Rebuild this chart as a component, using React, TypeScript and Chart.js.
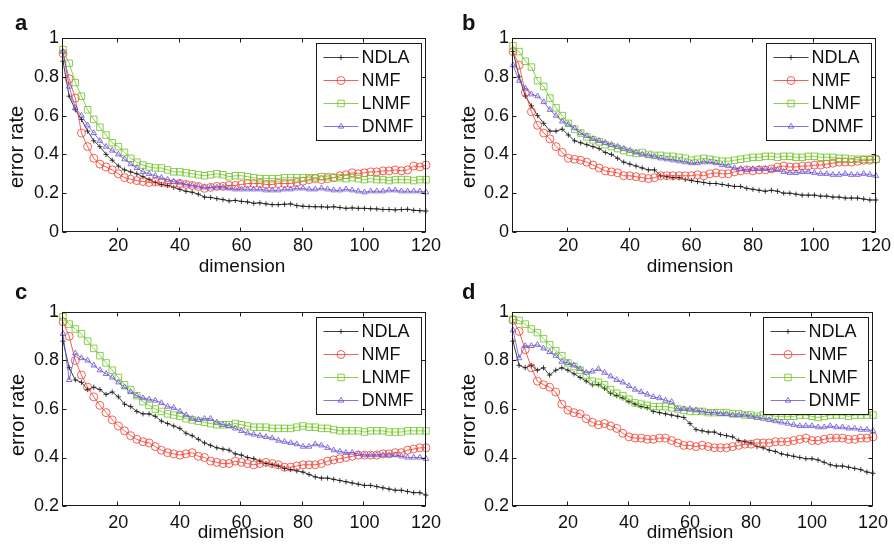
import React, { useEffect, useRef } from "react";
import { Chart, registerables } from "chart.js";
Chart.register(...registerables);

const DIMS = [2,4,6,8,10,12,14,16,18,20,22,24,26,28,30,32,34,36,38,40,42,44,46,48,50,52,54,56,58,60,62,64,66,68,70,72,74,76,78,80,82,84,86,88,90,92,94,96,98,100,102,104,106,108,110,112,114,116,118,120];
const SERIES_NAMES = ["NDLA", "NMF", "LNMF", "DNMF"];
const X_TICKS = [20, 40, 60, 80, 100, 120];
const Y_TICKS_AB = [0, 0.2, 0.4, 0.6, 0.8, 1];
const Y_TICKS_CD = [0.2, 0.4, 0.6, 0.8, 1];

const A_NDLA = [0.88,0.70,0.63,0.58,0.52,0.47,0.44,0.40,0.37,0.34,0.32,0.31,0.30,0.285,0.27,0.255,0.245,0.24,0.23,0.22,0.21,0.205,0.195,0.18,0.178,0.172,0.167,0.16,0.163,0.158,0.155,0.148,0.15,0.145,0.141,0.141,0.143,0.145,0.136,0.133,0.131,0.13,0.13,0.128,0.13,0.126,0.122,0.124,0.122,0.122,0.12,0.119,0.116,0.116,0.114,0.116,0.117,0.112,0.11,0.108];
const A_NMF = [0.92,0.79,0.69,0.51,0.44,0.38,0.35,0.335,0.32,0.30,0.28,0.272,0.265,0.26,0.255,0.258,0.255,0.25,0.25,0.25,0.245,0.24,0.235,0.225,0.23,0.235,0.235,0.24,0.24,0.245,0.25,0.25,0.25,0.245,0.245,0.25,0.25,0.25,0.255,0.262,0.27,0.275,0.27,0.275,0.28,0.29,0.295,0.305,0.30,0.305,0.31,0.31,0.315,0.315,0.32,0.315,0.32,0.34,0.335,0.345];
const A_LNMF = [0.94,0.87,0.77,0.70,0.63,0.58,0.54,0.50,0.46,0.44,0.41,0.38,0.36,0.345,0.335,0.33,0.33,0.32,0.31,0.31,0.305,0.30,0.295,0.29,0.295,0.30,0.295,0.285,0.29,0.29,0.285,0.28,0.275,0.275,0.275,0.275,0.28,0.28,0.28,0.28,0.28,0.28,0.285,0.285,0.28,0.28,0.275,0.28,0.275,0.27,0.275,0.27,0.27,0.265,0.27,0.27,0.27,0.265,0.27,0.27];
const A_DNMF = [0.93,0.75,0.64,0.60,0.55,0.51,0.47,0.44,0.42,0.40,0.375,0.35,0.33,0.31,0.30,0.29,0.28,0.27,0.26,0.255,0.245,0.24,0.235,0.23,0.23,0.23,0.23,0.225,0.22,0.22,0.22,0.22,0.22,0.215,0.215,0.215,0.22,0.22,0.225,0.225,0.22,0.22,0.225,0.22,0.215,0.215,0.22,0.215,0.21,0.205,0.21,0.21,0.21,0.215,0.215,0.21,0.21,0.21,0.21,0.205];

const B_NDLA = [0.93,0.80,0.70,0.65,0.60,0.56,0.52,0.52,0.53,0.50,0.47,0.46,0.45,0.44,0.43,0.41,0.40,0.38,0.36,0.35,0.34,0.33,0.32,0.32,0.29,0.285,0.28,0.28,0.27,0.265,0.26,0.255,0.25,0.25,0.245,0.24,0.235,0.235,0.225,0.22,0.215,0.21,0.215,0.21,0.20,0.20,0.195,0.19,0.19,0.19,0.185,0.185,0.18,0.18,0.175,0.175,0.175,0.17,0.165,0.165];
const B_NMF = [0.93,0.86,0.72,0.62,0.55,0.51,0.48,0.44,0.41,0.38,0.375,0.37,0.36,0.345,0.33,0.315,0.31,0.305,0.29,0.29,0.285,0.28,0.275,0.28,0.29,0.29,0.29,0.29,0.29,0.29,0.295,0.29,0.30,0.305,0.30,0.30,0.31,0.315,0.32,0.315,0.32,0.32,0.325,0.335,0.34,0.335,0.335,0.34,0.34,0.345,0.345,0.35,0.355,0.36,0.36,0.36,0.365,0.37,0.37,0.375];
const B_LNMF = [0.96,0.93,0.88,0.85,0.78,0.75,0.69,0.64,0.60,0.56,0.53,0.51,0.49,0.475,0.465,0.45,0.44,0.43,0.42,0.41,0.405,0.41,0.40,0.395,0.395,0.39,0.39,0.385,0.38,0.37,0.375,0.38,0.375,0.37,0.365,0.365,0.37,0.375,0.38,0.385,0.385,0.39,0.39,0.385,0.39,0.39,0.385,0.385,0.39,0.39,0.385,0.385,0.385,0.38,0.38,0.375,0.375,0.375,0.375,0.375];
const B_DNMF = [0.86,0.78,0.74,0.71,0.70,0.67,0.63,0.60,0.57,0.555,0.535,0.51,0.495,0.48,0.47,0.46,0.45,0.44,0.43,0.42,0.41,0.40,0.395,0.39,0.38,0.375,0.37,0.365,0.36,0.355,0.355,0.36,0.36,0.355,0.345,0.34,0.33,0.325,0.32,0.325,0.325,0.325,0.32,0.32,0.31,0.305,0.305,0.31,0.31,0.305,0.30,0.30,0.295,0.295,0.30,0.295,0.295,0.30,0.295,0.29];

const C_NDLA = [0.88,0.77,0.72,0.71,0.68,0.69,0.68,0.66,0.67,0.65,0.62,0.61,0.59,0.58,0.58,0.57,0.55,0.54,0.53,0.52,0.50,0.49,0.475,0.46,0.45,0.44,0.435,0.43,0.415,0.41,0.40,0.395,0.385,0.375,0.37,0.365,0.355,0.35,0.345,0.34,0.33,0.32,0.315,0.315,0.31,0.305,0.30,0.295,0.29,0.285,0.285,0.28,0.275,0.27,0.265,0.265,0.26,0.255,0.255,0.245];
const C_NMF = [0.96,0.90,0.80,0.74,0.69,0.65,0.615,0.585,0.555,0.53,0.51,0.49,0.475,0.465,0.46,0.445,0.43,0.42,0.415,0.41,0.415,0.42,0.405,0.40,0.385,0.38,0.375,0.375,0.385,0.38,0.375,0.37,0.375,0.38,0.375,0.37,0.36,0.36,0.365,0.37,0.37,0.37,0.375,0.385,0.39,0.395,0.40,0.405,0.41,0.41,0.41,0.41,0.415,0.415,0.42,0.42,0.43,0.435,0.44,0.44];
const C_LNMF = [0.98,0.95,0.93,0.91,0.88,0.85,0.82,0.79,0.76,0.73,0.70,0.68,0.655,0.63,0.615,0.60,0.59,0.58,0.575,0.57,0.56,0.555,0.55,0.545,0.54,0.535,0.535,0.535,0.54,0.535,0.53,0.525,0.525,0.525,0.52,0.52,0.52,0.52,0.525,0.53,0.525,0.525,0.52,0.52,0.515,0.51,0.51,0.51,0.51,0.505,0.51,0.51,0.51,0.505,0.505,0.505,0.51,0.51,0.51,0.51];
const C_DNMF = [0.91,0.72,0.83,0.81,0.80,0.78,0.76,0.745,0.73,0.71,0.69,0.67,0.655,0.645,0.64,0.635,0.625,0.61,0.605,0.59,0.575,0.56,0.555,0.56,0.56,0.545,0.535,0.53,0.52,0.51,0.50,0.495,0.49,0.485,0.48,0.47,0.465,0.46,0.455,0.445,0.445,0.455,0.45,0.44,0.43,0.425,0.42,0.42,0.415,0.41,0.41,0.41,0.41,0.41,0.41,0.405,0.40,0.40,0.40,0.395];

const D_NDLA = [0.88,0.78,0.77,0.78,0.76,0.77,0.74,0.76,0.77,0.76,0.745,0.73,0.715,0.70,0.70,0.685,0.665,0.655,0.645,0.63,0.62,0.61,0.605,0.59,0.585,0.58,0.575,0.57,0.565,0.54,0.515,0.51,0.505,0.505,0.495,0.49,0.485,0.47,0.465,0.46,0.445,0.44,0.43,0.425,0.415,0.41,0.405,0.40,0.395,0.395,0.39,0.38,0.37,0.365,0.365,0.36,0.355,0.35,0.34,0.335];
const D_NMF = [0.966,0.92,0.845,0.77,0.715,0.70,0.69,0.67,0.62,0.595,0.585,0.58,0.56,0.545,0.535,0.54,0.53,0.52,0.50,0.485,0.48,0.48,0.475,0.475,0.48,0.48,0.47,0.46,0.45,0.45,0.445,0.45,0.445,0.44,0.44,0.44,0.445,0.45,0.455,0.455,0.46,0.46,0.46,0.465,0.465,0.465,0.47,0.475,0.48,0.47,0.47,0.475,0.48,0.48,0.48,0.475,0.475,0.48,0.48,0.485];
const D_LNMF = [0.97,0.965,0.95,0.93,0.915,0.89,0.865,0.84,0.82,0.79,0.775,0.76,0.74,0.715,0.71,0.70,0.68,0.665,0.655,0.64,0.625,0.62,0.615,0.61,0.61,0.61,0.605,0.60,0.595,0.59,0.59,0.59,0.585,0.585,0.585,0.585,0.58,0.58,0.575,0.575,0.57,0.575,0.575,0.57,0.57,0.57,0.57,0.575,0.575,0.57,0.565,0.57,0.575,0.575,0.575,0.57,0.575,0.575,0.575,0.575];
const D_DNMF = [0.925,0.81,0.86,0.86,0.865,0.85,0.835,0.82,0.795,0.79,0.78,0.765,0.75,0.755,0.765,0.75,0.735,0.72,0.71,0.695,0.68,0.67,0.66,0.65,0.645,0.635,0.63,0.60,0.60,0.60,0.595,0.59,0.585,0.585,0.58,0.58,0.575,0.575,0.575,0.57,0.565,0.56,0.555,0.55,0.545,0.54,0.535,0.53,0.53,0.53,0.525,0.525,0.53,0.525,0.525,0.52,0.52,0.515,0.515,0.51];

const STYLES = [
  { color: "#111111", point: "cross", r: 2.6 },
  { color: "#f23a2a", point: "circle", r: 4 },
  { color: "#6cc420", point: "rect", r: 4.6 },
  { color: "#6a4fd4", point: "triangle", r: 3.2 },
];

const FONT = '"Liberation Sans", Arial, Helvetica, sans-serif';
const CW = 447;
const CH = 274;

type PanelCfg = {
  letter: string;
  left: number;
  top: number;
  series: number[][];
  yMin: number;
  yTicks: number[];
  axisW: number;
  rightPad: number;
  xTickPad: number;
  xTitleX: number;
  xTitleY: number;
  yTitleX: number;
  yTitleY: number;
  letterY: number;
};

const PANELS: PanelCfg[] = [
  { letter: "a", left: 0, top: 0, series: [A_NDLA, A_NMF, A_LNMF, A_DNMF], yMin: 0, yTicks: Y_TICKS_AB, axisW: 63, rightPad: 21, xTickPad: 3, xTitleX: 242, xTitleY: 272, yTitleX: 23, yTitleY: 147, letterY: 30 },
  { letter: "b", left: 447, top: 0, series: [B_NDLA, B_NMF, B_LNMF, B_DNMF], yMin: 0, yTicks: Y_TICKS_AB, axisW: 66, rightPad: 17, xTickPad: 3, xTitleX: 243, xTitleY: 272, yTitleX: 28, yTitleY: 147, letterY: 30 },
  { letter: "c", left: 0, top: 274, series: [C_NDLA, C_NMF, C_LNMF, C_DNMF], yMin: 0.2, yTicks: Y_TICKS_CD, axisW: 63, rightPad: 21, xTickPad: 6, xTitleX: 241, xTitleY: 264, yTitleX: 24, yTitleY: 141, letterY: 25 },
  { letter: "d", left: 447, top: 274, series: [D_NDLA, D_NMF, D_LNMF, D_DNMF], yMin: 0.2, yTicks: Y_TICKS_CD, axisW: 66, rightPad: 17, xTickPad: 6, xTitleX: 243, xTitleY: 264, yTitleX: 28, yTitleY: 141, letterY: 25 },
];

function drawMarker(ctx: CanvasRenderingContext2D, kind: string, x: number, y: number, r: number) {
  ctx.beginPath();
  if (kind === "circle") {
    ctx.arc(x, y, r, 0, Math.PI * 2);
  } else if (kind === "rect") {
    const s = r * Math.SQRT1_2;
    ctx.rect(x - s, y - s, 2 * s, 2 * s);
  } else if (kind === "triangle") {
    ctx.moveTo(x, y - r);
    ctx.lineTo(x + r * Math.sin((2 * Math.PI) / 3), y + r / 2);
    ctx.lineTo(x - r * Math.sin((2 * Math.PI) / 3), y + r / 2);
    ctx.closePath();
  } else {
    ctx.moveTo(x, y - r);
    ctx.lineTo(x, y + r);
    ctx.moveTo(x - r, y);
    ctx.lineTo(x + r, y);
  }
  ctx.stroke();
}

function makeDecor(cfg: PanelCfg) {
  return {
    id: "decor_" + cfg.letter,
    afterDraw(chart: any) {
      const ctx: CanvasRenderingContext2D = chart.ctx;
      const { left, right, top, bottom } = chart.chartArea;
      const xs = chart.scales.x;
      const ys = chart.scales.y;
      ctx.save();
      // axes box
      ctx.strokeStyle = "#1a1a1a";
      ctx.lineWidth = 1;
      const L = Math.round(left) - 0.5;
      const R = Math.round(right) - 0.5;
      const T = Math.round(top) + 0.5;
      const B = Math.round(bottom) - 0.5;
      ctx.strokeRect(L, T, R - L, B - T);
      // inward ticks
      ctx.beginPath();
      X_TICKS.forEach((v) => {
        const px = Math.round(xs.getPixelForValue(v)) - 0.5;
        ctx.moveTo(px, B);
        ctx.lineTo(px, B - 4);
        ctx.moveTo(px, T);
        ctx.lineTo(px, T + 4);
      });
      cfg.yTicks.forEach((v) => {
        const py = Math.round(ys.getPixelForValue(v)) + 0.5;
        ctx.moveTo(L, py);
        ctx.lineTo(L + 4, py);
        ctx.moveTo(R, py);
        ctx.lineTo(R - 4, py);
      });
      ctx.stroke();

      // legend
      const bx = Math.round(right) - 109.5;
      const by = Math.round(top) + 5.5;
      const bw = 105;
      const bh = 97;
      ctx.fillStyle = "#ffffff";
      ctx.fillRect(bx, by, bw, bh);
      ctx.strokeStyle = "#1a1a1a";
      ctx.strokeRect(bx, by, bw, bh);
      ctx.font = "18px " + FONT;
      ctx.textBaseline = "middle";
      ctx.textAlign = "left";
      SERIES_NAMES.forEach((name, i) => {
        const st = STYLES[i];
        const ey = by + 14 + 23 * i;
        ctx.strokeStyle = st.color;
        ctx.lineWidth = 0.8;
        ctx.beginPath();
        ctx.moveTo(bx + 7, ey);
        ctx.lineTo(bx + 42, ey);
        ctx.stroke();
        drawMarker(ctx, st.point, bx + 24.5, ey, st.r);
        ctx.fillStyle = "#111111";
        ctx.fillText(name, bx + 45, ey + 1);
      });

      // panel letter
      ctx.fillStyle = "#111111";
      ctx.textBaseline = "alphabetic";
      ctx.font = "bold 22px " + FONT;
      ctx.fillText(cfg.letter, 15, cfg.letterY);

      // x title
      ctx.font = "19px " + FONT;
      ctx.textAlign = "center";
      ctx.fillText("dimension", cfg.xTitleX, cfg.xTitleY);

      // y title
      ctx.save();
      ctx.translate(cfg.yTitleX, cfg.yTitleY);
      ctx.rotate(-Math.PI / 2);
      ctx.font = "20px " + FONT;
      ctx.textAlign = "center";
      ctx.fillText("error rate", 0, 0);
      ctx.restore();

      ctx.restore();
    },
  };
}

function Panel({ cfg }: { cfg: PanelCfg }) {
  const ref = useRef<HTMLCanvasElement | null>(null);
  useEffect(() => {
    if (!ref.current) return;
    const datasets = cfg.series.map((vals, i) => ({
      label: SERIES_NAMES[i],
      data: vals.map((v, j) => ({ x: DIMS[j], y: v })),
      borderColor: STYLES[i].color,
      backgroundColor: "rgba(0,0,0,0)",
      borderWidth: 0.8,
      pointStyle: STYLES[i].point,
      pointRadius: STYLES[i].r,
      pointBorderWidth: 0.8,
      pointBorderColor: STYLES[i].color,
      pointBackgroundColor: "rgba(0,0,0,0)",
      tension: 0,
      fill: false,
      clip: false,
      order: 3 - i,
    }));
    const chart = new Chart(ref.current, {
      type: "line",
      data: { datasets },
      options: {
        animation: false,
        responsive: false,
        devicePixelRatio: 1,
        layout: { padding: { top: 38, right: cfg.rightPad, left: 0, bottom: 0 } },
        plugins: { legend: { display: false }, tooltip: { enabled: false } },
        scales: {
          x: {
            type: "linear",
            min: 2,
            max: 120,
            grid: { display: false, drawTicks: false },
            border: { display: false },
            ticks: {
              color: "#111111",
              font: { family: FONT, size: 18 },
              padding: cfg.xTickPad,
              maxRotation: 0,
              autoSkip: false,
              callback: (v: any) => String(v),
            },
            afterBuildTicks: (s: any) => {
              s.ticks = X_TICKS.map((v) => ({ value: v }));
            },
            afterFit: (s: any) => {
              s.height = CH - 232;
            },
          },
          y: {
            type: "linear",
            min: cfg.yMin,
            max: 1,
            grid: { display: false, drawTicks: false },
            border: { display: false },
            ticks: {
              color: "#111111",
              font: { family: FONT, size: 18 },
              padding: 4,
              autoSkip: false,
              callback: (v: any) => String(Math.round(Number(v) * 10) / 10),
            },
            afterBuildTicks: (s: any) => {
              s.ticks = cfg.yTicks.map((v) => ({ value: v }));
            },
            afterFit: (s: any) => {
              s.width = cfg.axisW;
            },
          },
        },
      } as any,
      plugins: [makeDecor(cfg)],
    });
    return () => chart.destroy();
  }, []);
  return (
    <canvas
      ref={ref}
      width={CW}
      height={CH}
      style={{ position: "absolute", left: cfg.left, top: cfg.top, width: CW, height: CH, display: "block" }}
    />
  );
}

export default function App() {
  return (
    <div style={{ position: "absolute", left: 0, top: 0, width: 894, height: 548, background: "#ffffff" }}>
      {PANELS.map((p) => (
        <Panel key={p.letter} cfg={p} />
      ))}
    </div>
  );
}
